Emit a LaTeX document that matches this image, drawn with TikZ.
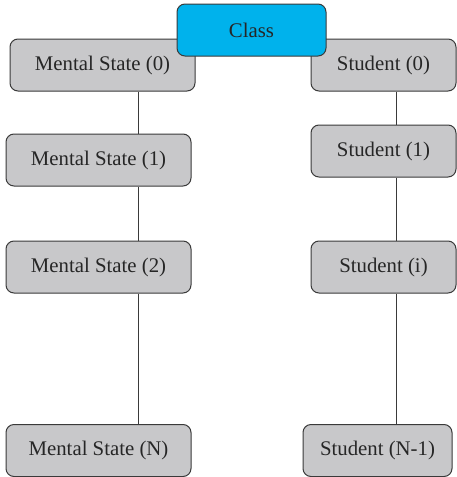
\documentclass[tikz,border=0pt]{standalone}
\usepackage{fontspec}
\setmainfont{Liberation Serif}
\definecolor{boxgray}{HTML}{C8C8CA}
\definecolor{boxline}{HTML}{3A3A3A}
\definecolor{classblue}{HTML}{00B2EC}
\begin{document}
\begin{tikzpicture}[x=1pt,y=-1pt,
  box/.style={draw=boxline,line width=1pt,fill=boxgray,rounded corners=8pt,
    minimum height=52pt,inner sep=0pt,font=\fontsize{20.8}{24}\selectfont,text=black!85},
  link/.style={draw=boxline,line width=0.9pt}]
\useasboundingbox (0,0) rectangle (456,477);
\coordinate (xL) at (138,0);
\coordinate (xR) at (396,0);
% left column
\node[box,minimum width=185pt] (ms0) at (102.5,65) {Mental State (0)};
\node[box,minimum width=185pt] (ms1) at (98.5,160) {Mental State (1)};
\node[box,minimum width=185pt] (ms2) at (98.5,267) {Mental State (2)};
\node[box,minimum width=185pt] (msn) at (98.5,450.5) {Mental State (N)};
% right column
\node[box,minimum width=145pt] (s0) at (383.5,65) {Student (0)};
\node[box,minimum width=145pt] (s1) at (383.5,151) {Student (1)};
\node[box,minimum width=145pt] (si) at (383.5,267) {Student (i)};
\node[box,minimum width=149pt] (sn) at (377.5,450.5) {Student (N-1)};
% top
\node[box,fill=classblue,minimum width=149pt] (cls) at (251.5,30) {Class};
% connectors
\draw[link] (ms0.south -| xL) -- (ms1.north -| xL);
\draw[link] (ms1.south -| xL) -- (ms2.north -| xL);
\draw[link] (ms2.south -| xL) -- (msn.north -| xL);
\draw[link] (s0.south -| xR) -- (s1.north -| xR);
\draw[link] (s1.south -| xR) -- (si.north -| xR);
\draw[link] (si.south -| xR) -- (sn.north -| xR);
\end{tikzpicture}
\end{document}
